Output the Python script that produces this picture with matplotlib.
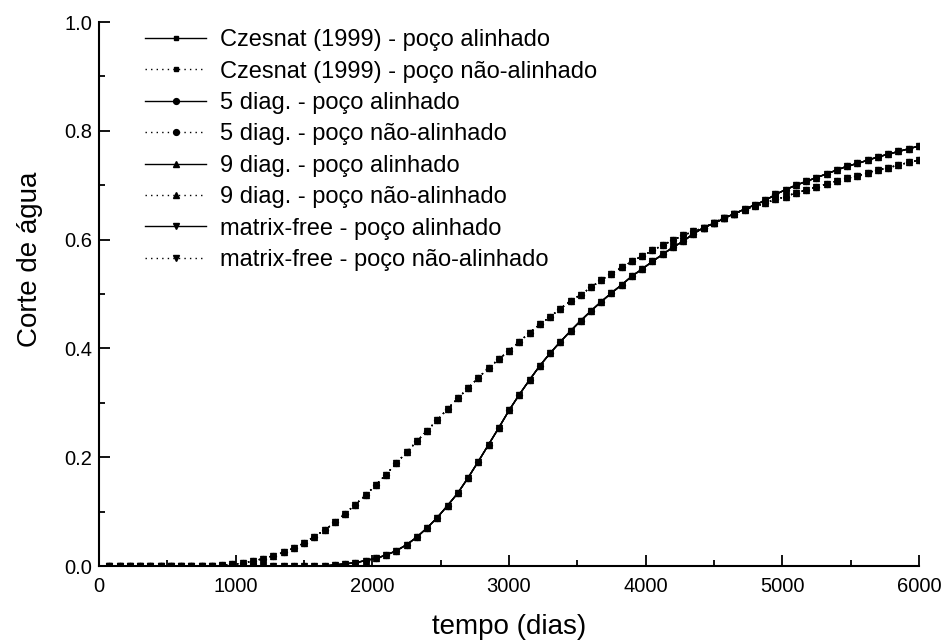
import numpy as np
import matplotlib.pyplot as plt
from matplotlib.ticker import MultipleLocator, FormatStrFormatter

# tempo de simulação (dias), um ponto a cada passo de 75 dias
tempo = np.arange(75, 6001, 75)

# corte de água - poço alinhado com a malha
corte_alinhado = [0.0] * 22 + [
    0.002, 0.004, 0.006, 0.010, 0.014, 0.020, 0.028, 0.039, 0.053, 0.070,
    0.089, 0.111, 0.134, 0.162, 0.192, 0.223, 0.254, 0.286, 0.315, 0.342,
    0.368, 0.391, 0.412, 0.432, 0.451, 0.469, 0.486, 0.502, 0.517, 0.533,
    0.546, 0.560, 0.573, 0.586, 0.597, 0.611, 0.622, 0.630, 0.639, 0.648,
    0.656, 0.664, 0.672, 0.683, 0.692, 0.700, 0.707, 0.714, 0.721, 0.728,
    0.735, 0.740, 0.746, 0.752, 0.757, 0.762, 0.767, 0.772,
]

# corte de água - poço não-alinhado
corte_nao_alinhado = [0.0] * 10 + [0.0005, 0.001] + [
    0.003, 0.005, 0.009, 0.0135, 0.019, 0.025, 0.033, 0.042, 0.054, 0.066,
    0.080, 0.096, 0.113, 0.130, 0.149, 0.168, 0.189, 0.209, 0.229, 0.249,
    0.268, 0.289, 0.308, 0.327, 0.346, 0.364, 0.380, 0.396, 0.412, 0.429,
    0.444, 0.458, 0.473, 0.487, 0.499, 0.512, 0.526, 0.537, 0.549, 0.560,
    0.570, 0.580, 0.590, 0.599, 0.608, 0.615, 0.622, 0.631, 0.640, 0.648,
    0.655, 0.661, 0.667, 0.674, 0.679, 0.686, 0.691, 0.697, 0.702, 0.708,
    0.713, 0.717, 0.723, 0.728, 0.732, 0.737, 0.742, 0.746,
]

# esquemas comparados e o marcador de cada um
esquemas = ['Czesnat (1999)', '5 diag.', '9 diag.', 'matrix-free']
marcadores = ['s', 'o', '^', 'v']
tamanhos = [3.2, 4.2, 5.0, 5.0]

plt.rcParams['font.family'] = ['Liberation Sans', 'DejaVu Sans']

fig = plt.figure(figsize=(9.44, 6.44), dpi=100)
ax = fig.add_axes([0.1049, 0.1211, 0.8686, 0.8447])

for nome, marc, tam in zip(esquemas, marcadores, tamanhos):
    ax.plot(tempo, corte_alinhado, color='black', linestyle='-', linewidth=1.0,
            marker=marc, markersize=tam, label=f'{nome} - poço alinhado')
    ax.plot(tempo, corte_nao_alinhado, color='black', linestyle=(0, (1, 3)), linewidth=1.0,
            marker=marc, markersize=tam, label=f'{nome} - poço não-alinhado')

# eixos
ax.set_xlim(0, 6000)
ax.set_ylim(0, 1.0)
ax.xaxis.set_major_locator(MultipleLocator(1000))
ax.xaxis.set_minor_locator(MultipleLocator(500))
ax.yaxis.set_major_locator(MultipleLocator(0.2))
ax.yaxis.set_minor_locator(MultipleLocator(0.1))
ax.yaxis.set_major_formatter(FormatStrFormatter('%.1f'))

ax.spines['top'].set_visible(False)
ax.spines['right'].set_visible(False)
for lado in ['left', 'bottom']:
    ax.spines[lado].set_linewidth(1.5)

ax.tick_params(which='major', direction='in', length=8, width=1.3, labelsize=14.5)
ax.tick_params(which='minor', direction='in', length=4, width=1.3)
ax.tick_params(axis='x', pad=8)
ax.tick_params(axis='y', pad=5)

ax.set_xlabel('tempo (dias)', fontsize=20)
ax.set_ylabel('Corte de água', fontsize=20)
ax.xaxis.set_label_coords(0.5, -0.089)
ax.yaxis.set_label_coords(-0.068, 0.564)

# legenda sem moldura no canto superior esquerdo
ax.legend(loc='upper left', bbox_to_anchor=(0.056, 0.987), frameon=False, fontsize=17,
          handlelength=2.6, handletextpad=0.6, labelspacing=0.40,
          borderpad=0, borderaxespad=0)

fig.savefig('out.png', dpi=100)
